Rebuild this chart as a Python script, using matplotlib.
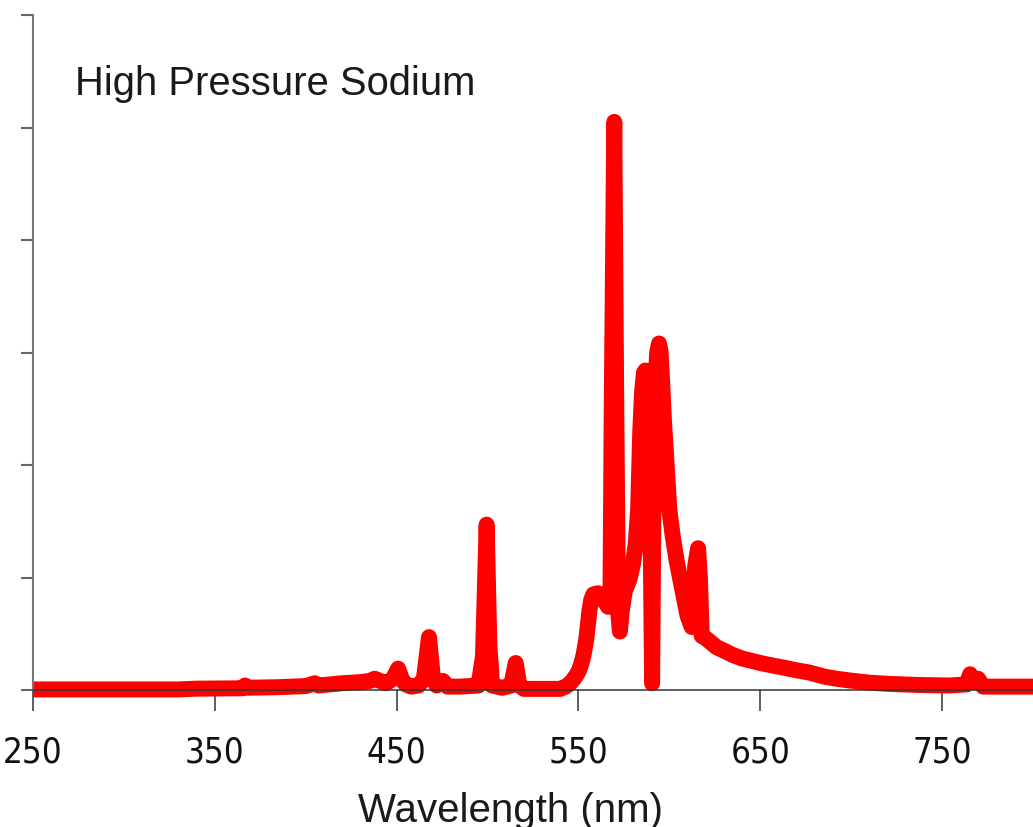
import matplotlib
matplotlib.use("Agg")
import matplotlib.pyplot as plt

# spectrum (wavelength in nm, relative intensity)
wavelength = [250, 330, 340, 365, 366.6, 368, 385, 400, 405, 407, 420, 430,
              435, 438, 441, 444, 448, 450.8, 453, 455, 458, 462, 465, 467.8,
              470, 472, 475.5, 478, 485, 495, 497.5, 499.5, 501, 502.5, 508,
              513, 515.5, 517.5, 520, 540, 543, 545.4, 547, 548.8, 550.2, 551.5,
              552.8, 554.3, 555.2, 556, 557, 558.2, 560.8, 562.5, 564, 566.3,
              567.6, 568.3, 569.7, 570.8, 571.8, 572.8, 573.8, 575.5, 578, 580,
              581.5, 582.8, 584, 585, 586, 586.8, 587.6, 588.5, 589.3, 590.5,
              591.4, 592.3, 593.3, 594.3, 595.2, 596, 597, 598.5, 600, 602, 604,
              606.3, 608, 610, 612.3, 613.3, 614.2, 615.8, 616.8, 617.8, 620,
              623, 626, 630, 635, 640, 645, 650, 656, 662.5, 670, 677, 685, 692,
              699, 710, 720, 736, 754, 763.5, 765.4, 767.5, 769.8, 772.6, 780,
              791, 800]
intensity = [0.005, 0.005, 0.012, 0.015, 0.04, 0.02, 0.025, 0.035, 0.06, 0.04,
             0.06, 0.07, 0.08, 0.1, 0.08, 0.06, 0.1, 0.19, 0.09, 0.05, 0.03,
             0.04, 0.1, 0.47, 0.1, 0.04, 0.08, 0.03, 0.03, 0.04, 0.3, 1.47, 0.4,
             0.04, 0.02, 0.04, 0.24, 0.04, 0.01, 0.01, 0.03, 0.06, 0.09, 0.13,
             0.17, 0.23, 0.31, 0.45, 0.58, 0.7, 0.8, 0.85, 0.86, 0.84, 0.8,
             0.74, 0.8, 2.5, 5.05, 2.5, 0.7, 0.52, 0.7, 0.88, 0.98, 1.12, 1.3,
             1.6, 2.3, 2.65, 2.82, 2.84, 2.75, 2.5, 2.1, 0.06, 2.0, 2.7, 3.0,
             3.08, 3.0, 2.75, 2.4, 2.0, 1.6, 1.35, 1.15, 0.96, 0.82, 0.66, 0.56,
             0.75, 1.1, 1.26, 1.0, 0.48, 0.46, 0.42, 0.38, 0.35, 0.31, 0.28,
             0.26, 0.24, 0.22, 0.2, 0.175, 0.155, 0.12, 0.1, 0.085, 0.065,
             0.055, 0.045, 0.04, 0.05, 0.14, 0.07, 0.1, 0.03, 0.03, 0.03, 0.03]

x_ticks = [250, 350, 450, 550, 650, 750]
y_ticks = [0, 1, 2, 3, 4, 5, 6]

fig = plt.figure(figsize=(10.33, 8.28), dpi=100)
ax = fig.add_axes([33 / 1033, 137 / 828, 1000 / 1033, 675 / 828])

ax.plot(wavelength, intensity, color="#ff0000", lw=11.5,
        solid_capstyle="butt", clip_on=False)

ax.set_xlim(250, 800)
ax.set_ylim(0, 6)

for s in ["top", "right"]:
    ax.spines[s].set_visible(False)
ax.spines["left"].set_color("#777777")
ax.spines["left"].set_linewidth(1.5)
ax.spines["bottom"].set_color("#333333")
ax.spines["bottom"].set_linewidth(1.1)

ax.set_xticks(x_ticks)
ax.set_xticklabels([str(t) for t in x_ticks],
                   family=["Liberation Sans Narrow", "DejaVu Sans"],
                   stretch="condensed", fontsize=25, color="#111111")
ax.tick_params(axis="x", direction="out", length=15, width=1.1,
               color="#333333", pad=17)
ax.set_yticks(y_ticks)
ax.set_yticklabels([])
ax.tick_params(axis="y", direction="out", length=9, width=1.5,
               color="#666666")

fig.text(75 / 1033, 1 - 95 / 828, "High Pressure Sodium",
         family="Liberation Sans", fontsize=28.8, color="#1a1a1a",
         ha="left", va="baseline")

ax.set_xlabel("Wavelength (nm)", family="Liberation Sans", fontsize=29,
              color="#1a1a1a")
ax.xaxis.set_label_coords((510 - 33) / 1000, (691 - 822) / 675)
ax.xaxis.label.set_va("baseline")

fig.savefig("out.png", dpi=100)
